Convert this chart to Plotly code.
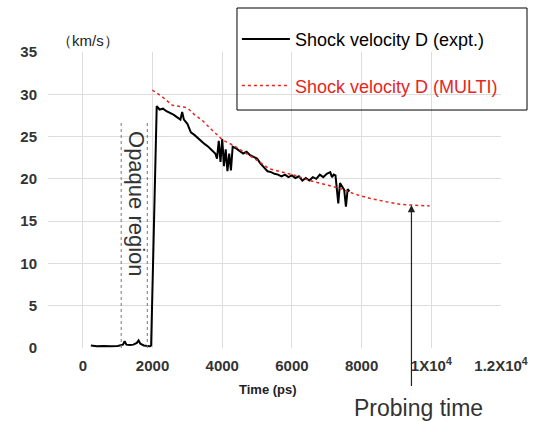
import plotly.graph_objects as go

# --- data ---
time_expt = [230, 400, 600, 800, 1000, 1100, 1150, 1200, 1250, 1350, 1450, 1550, 1600, 1650, 1750, 1850, 1930, 1960,
             2120, 2200, 2300, 2400, 2500, 2600, 2700, 2800, 2850, 2900, 3000, 3100, 3200, 3300, 3400, 3500,
             3600, 3700, 3800, 3850, 3900, 3950, 4000, 4050, 4100, 4150, 4200, 4250, 4300, 4400, 4500, 4600,
             4700, 4800, 4900, 5000, 5100, 5200, 5300, 5400, 5500, 5600, 5700, 5800, 5900, 6000, 6100, 6200,
             6300, 6400, 6500, 6600, 6700, 6800, 6900, 7000, 7100, 7150, 7200, 7250, 7300, 7330, 7380, 7450,
             7500, 7550, 7600, 7650]
v_expt = [0.3, 0.2, 0.25, 0.2, 0.25, 0.3, 0.4, 0.8, 0.4, 0.35, 0.4, 0.6, 0.9, 0.5, 0.3, 0.25, 0.2, 0.3,
          28.6, 28.2, 28.3, 28.0, 27.8, 27.6, 27.3, 27.0, 27.9, 27.0, 26.5, 25.5, 25.2, 24.8, 24.5, 24.1,
          23.8, 23.4, 23.0, 22.4, 24.5, 22.0, 24.7, 21.5, 23.5, 20.9, 23.0, 21.0, 23.8, 23.6, 23.3, 23.0,
          23.2, 22.8, 22.6, 22.4, 21.8, 21.3, 20.9, 20.8, 20.6, 20.5, 20.3, 20.5, 20.2, 20.4, 20.1, 20.3,
          19.8, 20.1, 19.8, 20.2, 20.0, 20.5, 20.2, 20.6, 20.8, 20.2, 20.5, 20.4, 18.0, 17.1, 19.5, 19.0,
          18.7, 16.7, 18.8, 18.5]

time_multi = [1995, 2280, 2570, 2800, 3000, 3200, 3430, 3700, 4010, 4300, 4700, 5000, 5350, 5700, 6100,
              6500, 7000, 7370, 7800, 8230, 8700, 9100, 9430, 9950]
v_multi = [30.5, 29.7, 28.7, 28.5, 28.4, 27.6, 26.9, 25.8, 24.6, 24.0, 23.0, 22.2, 21.2, 20.8, 20.4,
           19.8, 19.3, 18.9, 18.2, 17.7, 17.3, 17.0, 16.9, 16.8]

x_tickvals = [0, 2000, 4000, 6000, 8000, 10000, 12000]
x_ticktext = ["0", "2000", "4000", "6000", "8000", "1X10<sup>4</sup>", "1.2X10<sup>4</sup>"]
y_tickvals = [0, 5, 10, 15, 20, 25, 30, 35]

opaque_bounds = [1100, 1850]
opaque_top = 26.6
probe_time = 9430
probe_v = 16.9

FONT = "Liberation Sans, Arial, sans-serif"

fig = go.Figure()
fig.add_trace(go.Scatter(x=time_expt, y=v_expt, mode="lines", name="Shock velocity D (expt.)",
                         line=dict(color="black", width=2), legendgroup="a"))
fig.add_trace(go.Scatter(x=time_multi, y=v_multi, mode="lines",
                         name="<span style='color:#e8251f'>Shock velocity D (MULTI)</span>",
                         line=dict(color="#e8251f", width=1.5, dash="dot"), legendgroup="b"))

for xb in opaque_bounds:
    fig.add_shape(type="line", x0=xb, x1=xb, y0=0, y1=opaque_top, xref="x", yref="y",
                  line=dict(color="#777", width=1, dash="dot"))

# legend frame
fig.add_shape(type="rect", xref="paper", yref="paper", x0=0.4172, x1=1.0574, y0=0.804, y1=1.1486,
              line=dict(color="black", width=1), fillcolor="rgba(0,0,0,0)", layer="above")

fig.add_annotation(x=1560, y=17.0, xref="x", yref="y",
                   text="Opaque region", textangle=90, showarrow=False,
                   font=dict(family=FONT, size=22, color="#333"))

fig.add_annotation(x=probe_time, y=probe_v, xref="x", yref="y", text=" ",
                   showarrow=True, arrowhead=2, arrowsize=1.2, arrowwidth=1.2, arrowcolor="#222",
                   ax=0, ay=185, font=dict(size=4))
fig.add_annotation(x=0.818, y=-0.203, xref="paper", yref="paper", text="Probing time",
                   xanchor="center", showarrow=False,
                   font=dict(family=FONT, size=23, color="#333"), yanchor="middle")

fig.add_annotation(x=0.485, y=-0.14, xref="paper", yref="paper", text="<b>Time (ps)</b>",
                   xanchor="center", showarrow=False,
                   font=dict(family=FONT, size=13, color="#222"), yanchor="middle")
fig.add_annotation(x=0.015, y=1.04, xref="paper", yref="paper", text="（km/s）", xanchor="left",
                   showarrow=False, font=dict(family=FONT, size=15, color="#222"), yanchor="middle")

fig.update_layout(
    width=537, height=421,
    margin=dict(l=48, r=36, t=52, b=73, autoexpand=False),
    plot_bgcolor="white", paper_bgcolor="white",
    font=dict(family=FONT, color="#333"),
    showlegend=True,
    legend=dict(x=0.417, y=1.149, xanchor="left", yanchor="top",
                borderwidth=0, bgcolor="rgba(0,0,0,0)",
                font=dict(family=FONT, size=18, color="black"),
                title=dict(text=" ", font=dict(size=10)),
                itemwidth=48,
                tracegroupgap=20),
    xaxis=dict(range=[-1000, 12000], tickvals=x_tickvals, ticktext=x_ticktext,
               showgrid=True, gridcolor="#dddddd", zeroline=False, showline=False,
               tickfont=dict(family=FONT, size=15, color="#333", weight="bold"), ticks="",
               ticklabelstandoff=7),
    yaxis=dict(range=[0, 35], tickvals=y_tickvals,
               showgrid=True, gridcolor="#dddddd", zeroline=False, showline=False,
               tickfont=dict(family=FONT, size=15, color="#333", weight="bold"), ticks="",
               ticklabelstandoff=10),
)

fig.write_html("out.html", config={"displayModeBar": False},
               post_script="document.body.style.margin='0px';document.body.style.overflow='hidden';")
